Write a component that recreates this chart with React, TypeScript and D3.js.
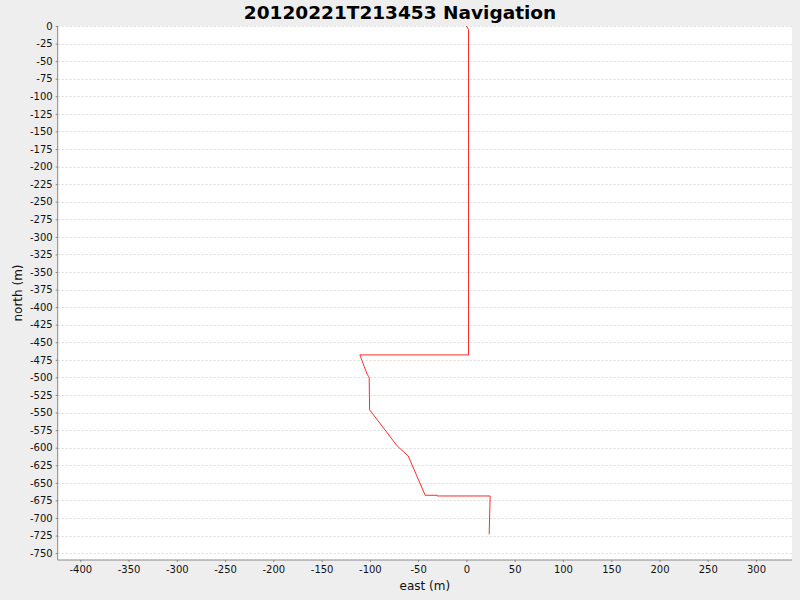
import { useEffect, useRef } from "react";
import * as d3 from "d3";

// track data (metres)
const eastValues = [
  0, 2.2, 2.2, -110.4, -109.3, -108.2, -107.1, -106.0, -104.9, -103.8, -102.6, -101.2,
  -100.7, -100.3, -71.7, -60.3, -42.7, -30.3, -30.2, 24.6, 23.6,
];
const northValues = [
  0, -5, -468, -468, -472, -476, -480, -484, -488, -492, -496, -499,
  -501, -546, -597.5, -611.8, -667.7, -667.7, -668.7, -668.7, -723.2,
];
const xTicks = [-400, -350, -300, -250, -200, -150, -100, -50, 0, 50, 100, 150, 200, 250, 300];
const yTicks = d3.range(0, -751, -25);

const W = 800;
const H = 600;
const margin = { top: 26, right: 8, bottom: 40, left: 57.7 };

export default function App() {
  const ref = useRef<SVGSVGElement>(null);

  useEffect(() => {
    const svg = d3.select(ref.current);
    svg.selectAll("*").remove();

    const x = d3.scaleLinear().domain([-423.4, 337.3]).range([margin.left, W - margin.right]);
    const y = d3.scaleLinear().domain([-759.8, 0]).range([H - margin.bottom, margin.top]);

    svg.append("rect").attr("width", W).attr("height", H).attr("fill", "#eeeeee");
    svg
      .append("rect")
      .attr("x", x.range()[0])
      .attr("y", y.range()[1])
      .attr("width", x.range()[1] - x.range()[0])
      .attr("height", y.range()[0] - y.range()[1])
      .attr("fill", "#ffffff");

    // grid lines
    svg
      .append("g")
      .selectAll("line")
      .data(yTicks)
      .join("line")
      .attr("x1", x.range()[0])
      .attr("x2", x.range()[1])
      .attr("y1", (d) => Math.round(y(d)) + 0.5)
      .attr("y2", (d) => Math.round(y(d)) + 0.5)
      .attr("stroke", "#dcdcdc")
      .attr("stroke-dasharray", "2,2");

    // y axis
    const yAxis = svg
      .append("g")
      .attr("transform", `translate(${x.range()[0]},0)`)
      .call(
        d3
          .axisLeft(y)
          .tickValues(yTicks)
          .tickSize(2)
          .tickPadding(3)
          .tickFormat((d) => String(d))
      );
    yAxis.select(".domain").attr("stroke", "#888888").attr("d", `M0,${y.range()[1]}V${y.range()[0]}`);
    yAxis.selectAll(".tick line").attr("stroke", "#888888");
    yAxis
      .selectAll("text")
      .attr("font-family", "DejaVu Sans")
      .attr("font-size", 10)
      .attr("fill", "#111111");

    // x axis
    const xAxis = svg
      .append("g")
      .attr("transform", `translate(0,${y.range()[0]})`)
      .call(
        d3
          .axisBottom(x)
          .tickValues(xTicks)
          .tickSize(2)
          .tickPadding(4)
          .tickFormat((d) => String(d))
      );
    xAxis.select(".domain").attr("stroke", "#888888").attr("d", `M${x.range()[0]},0H${x.range()[1]}`);
    xAxis.selectAll(".tick line").attr("stroke", "#888888");
    xAxis
      .selectAll("text")
      .attr("font-family", "DejaVu Sans")
      .attr("font-size", 10)
      .attr("fill", "#111111");

    // track
    const pts = eastValues.map((e, i) => [e, northValues[i]] as [number, number]);
    const line = d3
      .line<[number, number]>()
      .x((d) => x(d[0]))
      .y((d) => y(d[1]));
    svg
      .append("path")
      .datum(pts)
      .attr("d", line)
      .attr("fill", "none")
      .attr("stroke", "#ff2a2a")
      .attr("stroke-width", 1);

    // title and labels
    svg
      .append("text")
      .attr("x", W / 2)
      .attr("y", 18.5)
      .attr("text-anchor", "middle")
      .attr("font-family", "DejaVu Sans")
      .attr("font-weight", "bold")
      .attr("font-size", 18.5)
      .attr("fill", "#000000")
      .text("20120221T213453 Navigation");

    svg
      .append("text")
      .attr("x", (x.range()[0] + x.range()[1]) / 2)
      .attr("y", 590)
      .attr("text-anchor", "middle")
      .attr("font-family", "DejaVu Sans")
      .attr("font-size", 12)
      .attr("fill", "#111111")
      .text("east (m)");

    svg
      .append("text")
      .attr("transform", `translate(22,${(y.range()[0] + y.range()[1]) / 2}) rotate(-90)`)
      .attr("text-anchor", "middle")
      .attr("font-family", "DejaVu Sans")
      .attr("font-size", 12)
      .attr("fill", "#111111")
      .text("north (m)");
  }, []);

  return (
    <svg
      ref={ref}
      width={W}
      height={H}
      style={{ position: "absolute", left: 0, top: 0, display: "block" }}
    />
  );
}
